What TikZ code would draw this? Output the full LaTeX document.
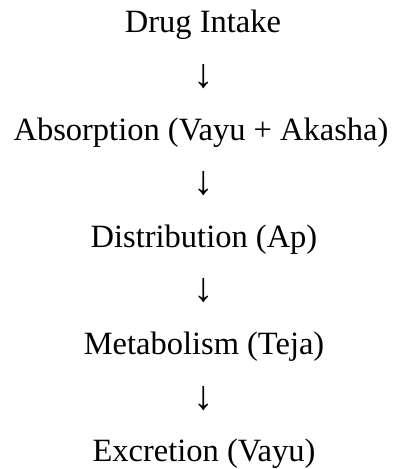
\documentclass[tikz,border=0pt]{standalone}
\usepackage{fontspec}
\setmainfont{Liberation Serif}
\begin{document}
\begin{tikzpicture}[x=1pt,y=1pt,
  lbl/.style={anchor=base,inner sep=0pt,font=\fontsize{32.5}{38}\selectfont},
  arr/.style={anchor=center,inner sep=0pt,font=\fontsize{41}{46}\selectfont}]
\useasboundingbox (0,0) rectangle (396,469);
\node[lbl] (n1) at (203,436) {Drug Intake};
\node[arr] (a1) at (204,392.5) {↓};
\node[lbl] (n2) at (201,328.8) {Absorption (Vayu + Akasha)};
\node[arr] (a2) at (204,285.3) {↓};
\node[lbl] (n3) at (204,221.6) {Distribution (Ap)};
\node[arr] (a3) at (204,178.1) {↓};
\node[lbl] (n4) at (204,114.4) {Metabolism (Teja)};
\node[arr] (a4) at (204,70.9) {↓};
\node[lbl] (n5) at (204,7.2) {Excretion (Vayu)};
\end{tikzpicture}
\end{document}
